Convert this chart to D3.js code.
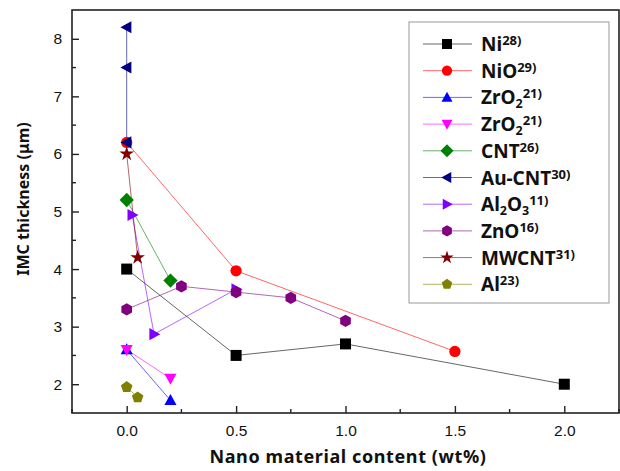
<!DOCTYPE html>
<html>
<head>
<meta charset="utf-8">
<script src="https://cdn.jsdelivr.net/npm/d3@7"></script>
<style>
  body { margin: 0; background: #fff; }
</style>
</head>
<body>
<div id="canvas"></div>
<script>
"use strict"
let svgWidth = 620;
let svgHeight = 471;

let marginLeft = 72;
let marginRight = 1;
let marginTop = 10;
let marginBottom = 58;

// legend labels: base text, subscript digits, superscript reference
let seriesNames = [["Ni"], ["NiO"], ["ZrO", "2"], ["ZrO", "2"], ["CNT"], ["Au-CNT"], ["Al", "2", "O", "3"], ["ZnO"], ["MWCNT"], ["Al"]];
let seriesRefs = ["28)", "29)", "21)", "21)", "26)", "30)", "11)", "16)", "31)", "23)"];
let seriesColors = ["#000000", "#ff0000", "#0000ff", "#ff00ff", "#008000", "#000080", "#8000ff", "#800080", "#800000", "#808000"];
let seriesShapes = ["square", "circle", "triUp", "triDown", "diamond", "triLeft", "triRight", "hexagon", "star", "pentagon"];

// x = wt%, y = IMC thickness (um)
let niX = [0, 0.5, 1.0, 2.0];
let niY = [4.0, 2.5, 2.7, 2.0];
let nioX = [0, 0.5, 1.5];
let nioY = [6.2, 3.97, 2.57];
let zro2aX = [0, 0.2];
let zro2aY = [2.6, 1.72];
let zro2bX = [0, 0.2];
let zro2bY = [2.6, 2.1];
let cntX = [0, 0.2];
let cntY = [5.2, 3.8];
let auCntX = [0, 0, 0];
let auCntY = [8.2, 7.5, 6.2];
let al2o3X = [0.025, 0.125, 0.5];
let al2o3Y = [4.94, 2.87, 3.65];
let znoX = [0, 0.25, 0.5, 0.75, 1.0];
let znoY = [3.3, 3.7, 3.6, 3.5, 3.1];
let mwcntX = [0, 0.05];
let mwcntY = [6.0, 4.2];
let alX = [0, 0.05];
let alY = [1.95, 1.77];

let allX = [niX, nioX, zro2aX, zro2bX, cntX, auCntX, al2o3X, znoX, mwcntX, alX];
let allY = [niY, nioY, zro2aY, zro2bY, cntY, auCntY, al2o3Y, znoY, mwcntY, alY];

let xTicks = [0, 0.5, 1.0, 1.5, 2.0];
let xMinor = [-0.25, 0.25, 0.75, 1.25, 1.75, 2.25];
let yTicks = [2, 3, 4, 5, 6, 7, 8];
let yMinor = [2.5, 3.5, 4.5, 5.5, 6.5, 7.5];

let svg = d3.select("#canvas")
    .append("svg")
    .attr("width", svgWidth)
    .attr("height", svgHeight);

let xScale = d3.scaleLinear()
    .domain([-0.25, 2.25])
    .range([marginLeft, svgWidth - marginRight]);

let yScale = d3.scaleLinear()
    .domain([1.5, 8.5])
    .range([svgHeight - marginBottom, marginTop]);

function shapePath(shape, s) {
    let h = s / 2;
    if (shape == "square") {
        return "M" + (-h) + "," + (-h) + "H" + h + "V" + h + "H" + (-h) + "Z";
    }
    if (shape == "circle") {
        return d3.symbol(d3.symbolCircle, Math.PI * h * h * 1.05)();
    }
    if (shape == "triUp") {
        return "M0," + (-h * 1.15) + "L" + (h * 1.1) + "," + (h * 0.85) + "L" + (-h * 1.1) + "," + (h * 0.85) + "Z";
    }
    if (shape == "triDown") {
        return "M0," + (h * 1.15) + "L" + (h * 1.1) + "," + (-h * 0.85) + "L" + (-h * 1.1) + "," + (-h * 0.85) + "Z";
    }
    if (shape == "triLeft") {
        return "M" + (-h * 1.15) + ",0L" + (h * 0.85) + "," + (-h * 1.1) + "L" + (h * 0.85) + "," + (h * 1.1) + "Z";
    }
    if (shape == "triRight") {
        return "M" + (h * 1.15) + ",0L" + (-h * 0.85) + "," + (-h * 1.1) + "L" + (-h * 0.85) + "," + (h * 1.1) + "Z";
    }
    if (shape == "diamond") {
        let r = h * 1.3;
        return "M0," + (-r) + "L" + r + ",0L0," + r + "L" + (-r) + ",0Z";
    }
    if (shape == "star") {
        return d3.symbol(d3.symbolStar, s * s * 0.55)();
    }
    let n = 5, r = h * 1.1;
    if (shape == "hexagon") { n = 6; r = h * 1.12; }
    let pts = [];
    for (let i = 0; i < n; i++) {
        let a = -Math.PI / 2 + i * 2 * Math.PI / n;
        pts.push([r * Math.cos(a), r * Math.sin(a)]);
    }
    return "M" + pts.map(function(p) { return p[0].toFixed(2) + "," + p[1].toFixed(2); }).join("L") + "Z";
}

let markerSize = 11;

// series lines first, then markers on top
let plot = svg.append("g");
let line = d3.line()
    .x(function(d) { return xScale(d[0]); })
    .y(function(d) { return yScale(d[1]); });

for (let i = 0; i < seriesNames.length; i++) {
    let pts = allX[i].map(function(x, j) { return [x, allY[i][j]]; });
    plot.append("path")
        .attr("d", line(pts))
        .attr("fill", "none")
        .attr("stroke", seriesColors[i])
        .attr("stroke-opacity", 0.6)
        .attr("stroke-width", 1);
}
for (let i = 0; i < seriesNames.length; i++) {
    let pts = allX[i].map(function(x, j) { return [x, allY[i][j]]; });
    plot.selectAll(null)
        .data(pts)
        .join("path")
        .attr("transform", function(d) { return "translate(" + xScale(d[0]) + "," + yScale(d[1]) + ")"; })
        .attr("d", shapePath(seriesShapes[i], markerSize))
        .attr("fill", seriesColors[i]);
}

// frame
let x0 = marginLeft, x1 = svgWidth - marginRight;
let y0 = marginTop, y1 = svgHeight - marginBottom;
svg.append("rect")
    .attr("x", x0)
    .attr("y", y0)
    .attr("width", x1 - x0)
    .attr("height", y1 - y0)
    .attr("fill", "none")
    .attr("stroke", "#222")
    .attr("stroke-width", 1.6);

// axes, ticks pointing inward
let xAxis = d3.axisBottom(xScale)
    .tickValues(xTicks)
    .tickFormat(d3.format(".1f"))
    .tickSize(-7)
    .tickPadding(12);
let gx = svg.append("g")
    .attr("transform", "translate(0," + y1 + ")")
    .call(xAxis);
gx.select(".domain").remove();
gx.selectAll(".tick line").attr("stroke", "#222").attr("stroke-width", 1.4);
gx.selectAll("text")
    .attr("font-family", "Liberation Sans, Arial, sans-serif")
    .attr("font-size", 15.5)
    .attr("fill", "#111");

svg.append("g").selectAll("line")
    .data(xMinor)
    .join("line")
    .attr("x1", function(d) { return xScale(d); })
    .attr("x2", function(d) { return xScale(d); })
    .attr("y1", y1)
    .attr("y2", y1 - 4)
    .attr("stroke", "#222")
    .attr("stroke-width", 1.4);

let yAxis = d3.axisLeft(yScale)
    .tickValues(yTicks)
    .tickFormat(d3.format("d"))
    .tickSize(-7)
    .tickPadding(10);
let gy = svg.append("g")
    .attr("transform", "translate(" + x0 + ",0)")
    .call(yAxis);
gy.select(".domain").remove();
gy.selectAll(".tick line").attr("stroke", "#222").attr("stroke-width", 1.4);
gy.selectAll("text")
    .attr("font-family", "Liberation Sans, Arial, sans-serif")
    .attr("font-size", 15.5)
    .attr("fill", "#111");

svg.append("g").selectAll("line")
    .data(yMinor)
    .join("line")
    .attr("x1", x0)
    .attr("x2", x0 + 4)
    .attr("y1", function(d) { return yScale(d); })
    .attr("y2", function(d) { return yScale(d); })
    .attr("stroke", "#222")
    .attr("stroke-width", 1.4);

// axis titles
svg.append("text")
    .attr("x", 348)
    .attr("y", 463)
    .attr("text-anchor", "middle")
    .attr("font-family", "Noto Sans, sans-serif")
    .attr("font-weight", "bold")
    .attr("font-size", 18)
    .attr("letter-spacing", 0.6)
    .attr("fill", "#111")
    .text("Nano material content (wt%)");

svg.append("text")
    .attr("transform", "translate(29," + 199 + ") rotate(-90)")
    .attr("text-anchor", "middle")
    .attr("font-family", "Noto Sans, sans-serif")
    .attr("font-weight", "bold")
    .attr("font-size", 16)
    .attr("fill", "#111")
    .text("IMC thickness (\u03bcm)");

// legend
let legX = 409, legY = 22, legW = 200, legH = 281;
svg.append("rect")
    .attr("x", legX)
    .attr("y", legY)
    .attr("width", legW)
    .attr("height", legH)
    .attr("fill", "#fff")
    .attr("stroke", "#999")
    .attr("stroke-width", 1);

for (let i = 0; i < seriesNames.length; i++) {
    let yPos = legY + 22 + i * 26.7;
    svg.append("line")
        .attr("x1", legX + 14)
        .attr("x2", legX + 63)
        .attr("y1", yPos)
        .attr("y2", yPos)
        .attr("stroke", seriesColors[i])
        .attr("stroke-opacity", 0.6)
        .attr("stroke-width", 1);
    svg.append("path")
        .attr("transform", "translate(" + (legX + 38) + "," + yPos + ")")
        .attr("d", shapePath(seriesShapes[i], markerSize - 1))
        .attr("fill", seriesColors[i]);

    let t = svg.append("text")
        .attr("x", legX + 72)
        .attr("y", yPos + 7)
        .attr("font-family", "Noto Sans, sans-serif")
        .attr("font-weight", "bold")
        .attr("font-size", 19)
        .attr("fill", "#111");
    let parts = seriesNames[i];
    for (let j = 0; j < parts.length; j++) {
        // odd entries are subscript digits
        if (j % 2 == 1) {
            t.append("tspan")
                .attr("font-size", 12.5)
                .attr("baseline-shift", "-4")
                .text(parts[j]);
        } else {
            t.append("tspan").text(parts[j]);
        }
    }
    t.append("tspan")
        .attr("font-size", 13)
        .attr("baseline-shift", "6")
        .text(seriesRefs[i]);
}
</script>
</body>
</html>
